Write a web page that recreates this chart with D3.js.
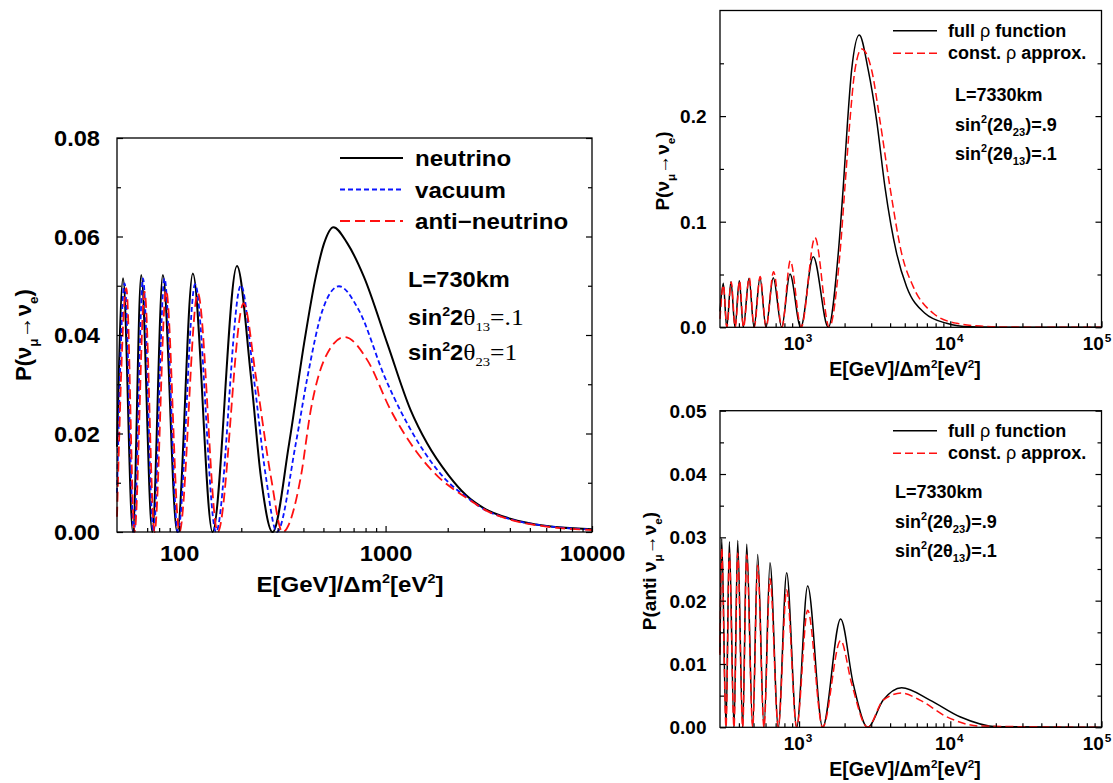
<!DOCTYPE html>
<html>
<head>
<meta charset="utf-8">
<script src="https://cdn.jsdelivr.net/npm/d3@7"></script>
<style>
  body { margin: 0; background: #fff; }
  svg { display: block; font-family: "Liberation Sans", Arial, sans-serif; }
</style>
</head>
<body>
<svg id="fig" width="1113" height="783"></svg>
<script>
/* ---- left panel : L=730km, [E, P] ---- */
var leftNeutrino = [[50,.0173],[53.5,.0515],[59.7,0],[65.5,.0522],[74.1,0],[83.4,.0522],[97.8,0],[116.5,.0525],[145.1,0],
  [190.6,.054],[222.8,.0315],[248.9,.0112],[283.6,0],[341.1,.018],[403,.0383],[459.1,.0518],[503.5,.0586],[558.7,.0619],
  [653.1,.0586],[785.6,.0518],[1019,.0383],[1321,.0248],[1589,.018],[2020,.0115],[2450,.0075],[3000,.0048],[4018,.0027],
  [6040,.0012],[10000,.00055]];
var leftVacuum = [[50,.0079],[54.4,.0505],[60.4,0],[66.8,.0515],[75.1,0],[84.9,.0515],[98.6,0],[119.5,.0503],[150.9,0],
  [199.3,.0501],[229.6,.0315],[263.2,.0112],[297.5,0],[367.5,.018],[418.6,.0315],[494.6,.045],[594.8,.0499],[743,.045],
  [990,.0315],[1448,.018],[1940,.0108],[2450,.0072],[3000,.0046],[4018,.0026],[6040,.0012],[10000,.0005]];
var leftAnti = [[50,.0031],[55.5,.0495],[60.8,0],[68,.0488],[76,0],[86.5,.0491],[100.3,0],[123.1,.0485],[153.8,0],
  [205.3,.0464],[235.5,.0315],[278.3,.0112],[316.9,0],[388.5,.0112],[434.3,.0248],[503.5,.0349],[633.8,.0396],
  [815.8,.0349],[1057,.0248],[1400,.0165],[1800,.0112],[2200,.0083],[2600,.0063],[3000,.0046],[4018,.0025],
  [6040,.0011],[10000,.0004]];

/* ---- top right : neutrino, L=7330km ---- */
var topFull = [[300,.015],[315.5,.0417],[332.3,0],[354.6,.0432],[376.9,0],[402.4,.044],[427.8,0],[466.6,.0464],[503.4,0],
  [551.4,.047],[604.1,0],[675.2,.047],[767.4,0],[870.8,.0505],[1024.7,0],[1241.3,.0669],[1560,0],[1816,.070],[1960,.133],
  [2095,.196],[2227,.2437],[2500,.2768],[2866,.2437],[3257,.196],[3697,.133],[4418,.070],[5143,.0385],[6794,.0133],
  [9454,.0038],[13478,.0005],[24770,.0001],[100000,0]];
var topConst = [[300,.008],[316,.040],[333,0],[356,.043],[378,0],[404,.044],[429,0],[468,.047],[505,0],[553,.048],[606,0],
  [678,.0527],[771,0],[875,.063],[1032,0],[1274,.085],[1584,0],[1864,.070],[2011,.133],[2170,.196],[2342,.2437],
  [2593,.2635],[3019,.2437],[3425,.196],[3989,.133],[4767,.070],[5686,.0385],[7709,.0133],[11006,.0038],[16425,.001],
  [24770,.0002],[100000,0]];

/* ---- bottom right : anti-neutrino, L=7330km ---- */
var botFull = [[300,.0117],[307.9,.0298],[328.8,0],[345.7,.0293],[371.3,0],[392.8,.0295],[423.9,0],[450.5,.0289],[493.6,0],
  [532.6,.0273],[586.1,0],[642.3,.026],[728.8,0],[828,.0244],[964,0],[1139.8,.0223],[1432,0],[1883,.0171],[2281,.0069],
  [2840,0],[3602,.0043],[4767,.00625],[7333,.0043],[11571,.00167],[20230,.0001],[100000,0]];
var botConst = [[300,.0114],[307.9,.0283],[328.8,0],[345.7,.0275],[371.3,0],[392.8,.0275],[423.9,0],[450.5,.0272],[493.6,0],
  [532.6,.0256],[586.1,0],[642.3,.0235],[728.8,0],[828,.0217],[964,0],[1139.8,.0185],[1432,0],[1883,.0137],[2227,.0069],
  [2840,0],[3602,.0043],[4767,.0054],[6297,.0043],[9452,.00167],[15694,.0002],[100000,0]];

/* ---- ticks ---- */
var leftTicksY = [0, .02, .04, .06, .08];
var leftMinorY = [.01, .03, .05, .07];
var leftTicksX = [100, 1000, 10000];
var leftMinorX = [60,70,80,90,200,300,400,500,600,700,800,900,2000,3000,4000,5000,6000,7000,8000,9000];
var rightTicksX = [1000, 10000, 100000];
var rightMinorX = [400,500,600,700,800,900,2000,3000,4000,5000,6000,7000,8000,9000,
  20000,30000,40000,50000,60000,70000,80000,90000];
var topTicksY = [0, .1, .2];
var topMinorY = [.05, .15, .25];
var botTicksY = [0, .01, .02, .03, .04, .05];
var botMinorY = [.005, .015, .025, .035, .045];

var svg = d3.select("#fig");

/* texte avec indices / exposants */
function richText(parent, x, y, parts, fs, o) {
	o = o || {};
	var t = parent.append("text")
		.attr("transform", "translate(" + x + "," + y + ")" + (o.rotate ? " rotate(-90)" : "") + " scale(" + (o.sx || 1) + ",1)")
		.attr("text-anchor", o.anchor || "start")
		.attr("font-size", fs)
		.attr("font-weight", "bold")
		.attr("fill", "#000");
	var cur = 0;
	parts.forEach(function (p) {
		var k = p[1] || "";
		var off = 0, size = fs;
		if (k.indexOf("sub") >= 0) { off = fs * 0.3; size = fs * 0.62; }
		if (k.indexOf("sup") >= 0) { off = -fs * 0.42; size = fs * 0.6; }
		if (k.indexOf("big") >= 0) { size = fs * 1.08; }
		var sp = t.append("tspan").attr("dy", off - cur).attr("font-size", size).text(p[0]);
		if (k.indexOf("serif") >= 0) sp.attr("font-family", "'Liberation Serif', serif").attr("font-weight", "normal");
		if (k.indexOf("norm") >= 0) sp.attr("font-weight", "normal");
		cur = off;
	});
	return t;
}

function drawPanel(c) {
	var x = d3.scaleLog().domain(c.xDomain).range([c.left, c.right]);
	var y = d3.scaleLinear().domain(c.yDomain).range([c.bottom, c.top]);
	var g = svg.append("g");

	var line = d3.line()
		.x(function (d) { return x(d[0]); })
		.y(function (d) { return y(d[1]); })
		.curve(d3.curveMonotoneX);

	c.series.forEach(function (s) {
		g.append("path")
			.attr("d", line(s.data))
			.attr("fill", "none")
			.attr("stroke", s.color)
			.attr("stroke-width", s.width)
			.attr("stroke-dasharray", s.dash || null);
	});

	// minor ticks
	g.append("g").attr("transform", "translate(0," + c.bottom + ")")
		.call(d3.axisBottom(x).tickValues(c.minorX).tickSize(-4).tickFormat(""));
	g.append("g").attr("transform", "translate(" + c.left + ",0)")
		.call(d3.axisLeft(y).tickValues(c.minorY).tickSize(-4).tickFormat(""));
	g.append("g").attr("transform", "translate(" + c.right + ",0)")
		.call(d3.axisRight(y).tickValues(c.minorY).tickSize(-4).tickFormat(""));
	g.append("g").attr("transform", "translate(" + c.right + ",0)")
		.call(d3.axisRight(y).tickValues(c.ticksY).tickSize(-6).tickFormat(""));

	// major ticks with labels
	var ax = g.append("g").attr("transform", "translate(0," + c.bottom + ")")
		.call(d3.axisBottom(x).tickValues(c.ticksX).tickSize(-6));
	var ay = g.append("g").attr("transform", "translate(" + c.left + ",0)")
		.call(d3.axisLeft(y).tickValues(c.ticksY).tickSize(-6).tickFormat(d3.format(c.yFormat)));

	g.selectAll(".domain").remove();
	g.selectAll(".tick line").attr("stroke", "#000").attr("stroke-width", 1.2);

	ay.selectAll(".tick text")
		.attr("font-family", "'Liberation Sans', Arial, sans-serif")
		.attr("font-size", c.fs).attr("font-weight", "bold").attr("fill", "#000")
		.attr("x", -c.padY / c.sx).attr("dy", "0.35em")
		.attr("transform", "scale(" + c.sx + ",1)");

	var xt = ax.selectAll(".tick text")
		.attr("font-family", "'Liberation Sans', Arial, sans-serif")
		.attr("font-size", c.fs).attr("font-weight", "bold").attr("fill", "#000")
		.attr("y", c.padX).attr("dy", 0)
		.attr("transform", "scale(" + c.sx + ",1)");
	if (c.powers) {
		// the last label is pushed left so it stays inside the page
		xt.text(null)
			.attr("x", function (d, i, n) { return i === n.length - 1 ? -5 : -1.5; });
		xt.append("tspan").text("10");
		xt.append("tspan").attr("dy", -8).attr("dx", 1).attr("font-size", c.fs * 0.62)
			.text(function (d) { return Math.round(Math.log10(d)); });
	} else {
		xt.text(function (d) { return d; });
	}

	g.append("rect")
		.attr("x", c.left).attr("y", c.top)
		.attr("width", c.right - c.left).attr("height", c.bottom - c.top)
		.attr("fill", "none").attr("stroke", "#000").attr("stroke-width", 1.3);

	return { x: x, y: y, g: g };
}

var BLACK = "#000000", BLUE = "#0a14ff", RED = "#ff1010";

/* ------- left panel ------- */
var L = drawPanel({
	xDomain: [50, 10000], yDomain: [0, 0.08],
	left: 117, right: 592, top: 138, bottom: 532,
	ticksX: leftTicksX, minorX: leftMinorX, ticksY: leftTicksY, minorY: leftMinorY,
	yFormat: ".2f", fs: 21.5, sx: 1.1, padY: 17, padX: 29, powers: false,
	series: [
		{ data: leftNeutrino, color: BLACK, width: 2 },
		{ data: leftVacuum, color: BLUE, width: 1.8, dash: "5,3" },
		{ data: leftAnti, color: RED, width: 1.8, dash: "10,5" }
	]
});

var legLeft = [
	{ label: "neutrino", color: BLACK, dash: null, y: 158 },
	{ label: "vacuum", color: BLUE, dash: "5,3", y: 189.5 },
	{ label: "anti\u2212neutrino", color: RED, dash: "10,5", y: 221 }
];
legLeft.forEach(function (d) {
	svg.append("line").attr("x1", 340).attr("x2", 403).attr("y1", d.y).attr("y2", d.y)
		.attr("stroke", d.color).attr("stroke-width", 2).attr("stroke-dasharray", d.dash);
	richText(svg, 415, d.y + 8, [[d.label]], 21.5, { sx: 1.12 });
});

richText(svg, 408, 287, [["L=730km"]], 21.5, { sx: 1.1 });
richText(svg, 408, 325, [["sin"], ["2", "sup"], ["2"], ["\u03b8", "serif big"], ["13", "sub serif"], ["=.1", "serif big"]], 21.5, { sx: 1.1 });
richText(svg, 408, 360, [["sin"], ["2", "sup"], ["2"], ["\u03b8", "serif big"], ["23", "sub serif"], ["=1", "serif big"]], 21.5, { sx: 1.1 });

richText(svg, 31, 335, [["P("], ["\u03bd"], ["\u03bc", "sub"], ["\u2192"], ["\u03bd"], ["e", "sub"], [")"]], 22, { rotate: true, anchor: "middle" });
richText(svg, 350, 592, [["E[GeV]/\u0394m"], ["2", "sup"], ["[eV"], ["2", "sup"], ["]"]], 21.5, { anchor: "middle", sx: 1.12 });

/* ------- top right panel ------- */
var T = drawPanel({
	xDomain: [300, 100000], yDomain: [0, 0.3],
	left: 720, right: 1101.5, top: 10.5, bottom: 327.3,
	ticksX: rightTicksX, minorX: rightMinorX, ticksY: topTicksY, minorY: topMinorY,
	yFormat: ".1f", fs: 19, sx: 1, padY: 13.5, padX: 23, powers: true,
	series: [
		{ data: topFull, color: BLACK, width: 1.5 },
		{ data: topConst, color: RED, width: 1.5, dash: "8,4" }
	]
});

/* ------- bottom right panel ------- */
var B = drawPanel({
	xDomain: [300, 100000], yDomain: [0, 0.05],
	left: 720, right: 1101.5, top: 410.7, bottom: 727.3,
	ticksX: rightTicksX, minorX: rightMinorX, ticksY: botTicksY, minorY: botMinorY,
	yFormat: ".2f", fs: 19, sx: 1, padY: 13.5, padX: 23, powers: true,
	series: [
		{ data: botFull, color: BLACK, width: 1.5 },
		{ data: botConst, color: RED, width: 1.5, dash: "8,4" }
	]
});

function rightLegend(y0) {
	svg.append("line").attr("x1", 893).attr("x2", 937).attr("y1", y0).attr("y2", y0)
		.attr("stroke", BLACK).attr("stroke-width", 1.5);
	richText(svg, 948, y0 + 6, [["full "], ["\u03c1", "norm"], [" function"]], 18);
	svg.append("line").attr("x1", 893).attr("x2", 937).attr("y1", y0 + 22.6).attr("y2", y0 + 22.6)
		.attr("stroke", RED).attr("stroke-width", 1.5).attr("stroke-dasharray", "8,4");
	richText(svg, 948, y0 + 28.6, [["const. "], ["\u03c1", "norm"], [" approx."]], 18);
}
function rightNotes(x0, y0) {
	richText(svg, x0, y0, [["L=7330km"]], 18);
	richText(svg, x0, y0 + 30, [["sin"], ["2", "sup"], ["(2\u03b8"], ["23", "sub"], [")=.9"]], 18);
	richText(svg, x0, y0 + 59.5, [["sin"], ["2", "sup"], ["(2\u03b8"], ["13", "sub"], [")=.1"]], 18);
}

rightLegend(30.7);
rightNotes(955, 100.5);
rightLegend(430.7);
rightNotes(895, 497.5);

richText(svg, 669, 171, [["P("], ["\u03bd"], ["\u03bc", "sub"], ["\u2192"], ["\u03bd"], ["e", "sub"], [")"]], 19, { rotate: true, anchor: "middle" });
richText(svg, 656, 571, [["P(anti "], ["\u03bd"], ["\u03bc", "sub"], ["\u2192"], ["\u03bd"], ["e", "sub"], [")"]], 19, { rotate: true, anchor: "middle" });
richText(svg, 905, 376, [["E[GeV]/\u0394m"], ["2", "sup"], ["[eV"], ["2", "sup"], ["]"]], 19.5, { anchor: "middle" });
richText(svg, 905, 776, [["E[GeV]/\u0394m"], ["2", "sup"], ["[eV"], ["2", "sup"], ["]"]], 19.5, { anchor: "middle" });
</script>
</body>
</html>
